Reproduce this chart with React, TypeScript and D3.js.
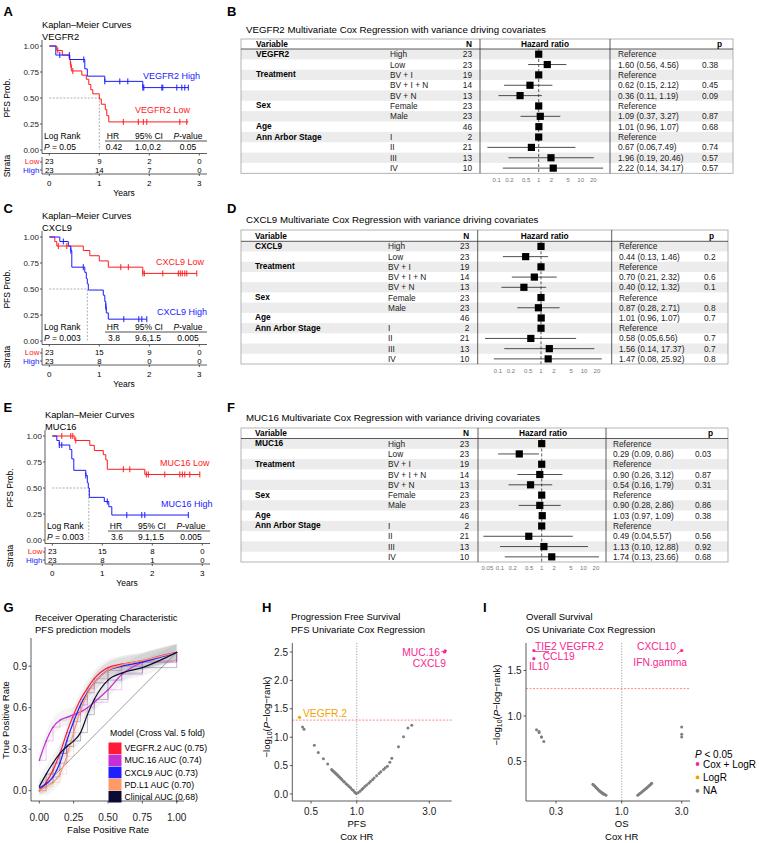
import React from 'react';
import * as d3 from 'd3';

const FONT = '"Liberation Sans", Arial, Helvetica, sans-serif';
const RED = '#ff1a1a';
const BLUE = '#1a1aff';
const PINK = '#f7288f';
const ORANGE = '#f5a300';
const GRAY = '#7f7f7f';

// ---------- Kaplan-Meier data ----------
const vegfrHighSteps = [[0, 1], [0.13, 0.913], [0.41, 0.87], [0.71, 0.78], [0.76, 0.71], [1.11, 0.66], [1.87, 0.6]];
const vegfrHighCensor = [0.21, 0.4, 0.69, 1.11, 1.41, 1.57, 1.87, 1.89, 2.25, 2.27, 2.55, 2.65, 2.71, 2.78];
const vegfrLowSteps = [[0, 1], [0.15, 0.957], [0.26, 0.913], [0.4, 0.87], [0.42, 0.82], [0.44, 0.76], [0.65, 0.72], [0.74, 0.68], [0.79, 0.63], [0.83, 0.58], [0.87, 0.54], [1.0, 0.49], [1.04, 0.44], [1.12, 0.39], [1.15, 0.33], [1.19, 0.27]];
const vegfrLowCensor = [0.17, 0.43, 0.47, 1.48, 1.78, 1.88, 1.95, 2.61, 2.75];
const vegfrRiskLow = [23, 9, 2, 0];
const vegfrRiskHigh = [23, 14, 7, 0];

const cxclLowSteps = [[0, 1], [0.11, 0.957], [0.15, 0.913], [0.68, 0.87], [0.81, 0.82], [1.0, 0.77], [1.18, 0.71], [1.87, 0.65]];
const cxclLowCensor = [0.18, 0.35, 1.43, 1.58, 1.87, 1.9, 2.27, 2.58, 2.62, 2.66, 2.71, 2.75, 2.95];
const cxclHighSteps = [[0, 1], [0.21, 0.957], [0.38, 0.913], [0.43, 0.87], [0.45, 0.71], [0.71, 0.66], [0.74, 0.6], [0.76, 0.55], [0.78, 0.49], [1.08, 0.44], [1.11, 0.38], [1.13, 0.33], [1.14, 0.27], [1.18, 0.21]];
const cxclHighCensor = [0.28, 0.43, 0.68, 1.13, 1.49, 1.79, 1.85, 1.95];
const cxclRiskLow = [23, 15, 9, 0];
const cxclRiskHigh = [23, 8, 0, 0];

const mucLowSteps = [[0, 1], [0.45, 0.957], [0.75, 0.91], [0.84, 0.86], [1.02, 0.82], [1.07, 0.77], [1.1, 0.68], [1.85, 0.63]];
const mucLowCensor = [0.19, 0.37, 0.41, 0.47, 1.42, 1.55, 1.88, 1.92, 2.25, 2.55, 2.6, 2.65, 2.75, 2.95];
const mucHighSteps = [[0, 1], [0.09, 0.957], [0.14, 0.913], [0.35, 0.87], [0.39, 0.78], [0.43, 0.67], [0.67, 0.62], [0.7, 0.55], [0.72, 0.5], [0.74, 0.41], [1.04, 0.37], [1.13, 0.32], [1.19, 0.24]];
const mucHighCensor = [0.14, 0.19, 0.67, 1.1, 1.49, 1.79, 1.85, 2.72];
const mucRiskLow = [23, 15, 8, 0];
const mucRiskHigh = [23, 8, 1, 0];

const kmYTicks = [0, 0.25, 0.5, 0.75, 1];
const kmYLabels = ['0.00', '0.25', '0.50', '0.75', '1.00'];
const kmXTicks = [0, 1, 2, 3];

// ---------- Forest data ----------
const forestVars = ['', '', 'Treatment', '', '', 'Sex', '', 'Age', 'Ann Arbor Stage', '', '', ''];
const forestLevels = ['High', 'Low', 'BV + I', 'BV + I + N', 'BV + N', 'Female', 'Male', '', 'I', 'II', 'III', 'IV'];
const forestN = [23, 23, 19, 14, 13, 23, 23, 46, 2, 21, 13, 10];

const vegfrHR = [1, 1.6, 1, 0.62, 0.36, 1, 1.09, 1.01, 1, 0.67, 1.96, 2.22];
const vegfrLo = [NaN, 0.56, NaN, 0.15, 0.11, NaN, 0.37, 0.96, NaN, 0.06, 0.19, 0.14];
const vegfrHi = [NaN, 4.56, NaN, 2.12, 1.19, NaN, 3.27, 1.07, NaN, 7.49, 20.46, 34.17];
const vegfrEst = ['Reference', '1.60 (0.56, 4.56)', 'Reference', '0.62 (0.15, 2.12)', '0.36 (0.11, 1.19)', 'Reference', '1.09 (0.37, 3.27)', '1.01 (0.96, 1.07)', 'Reference', '0.67 (0.06,7.49)', '1.96 (0.19, 20.46)', '2.22 (0.14, 34.17)'];
const vegfrP = ['', '0.38', '', '0.45', '0.09', '', '0.87', '0.68', '', '0.74', '0.57', '0.57'];

const cxclHR = [1, 0.44, 1, 0.7, 0.4, 1, 0.87, 1.01, 1, 0.58, 1.56, 1.47];
const cxclLo = [NaN, 0.13, NaN, 0.21, 0.12, NaN, 0.28, 0.96, NaN, 0.05, 0.14, 0.08];
const cxclHi = [NaN, 1.46, NaN, 2.32, 1.32, NaN, 2.71, 1.07, NaN, 6.56, 17.37, 25.92];
const cxclEst = ['Reference', '0.44 (0.13, 1.46)', 'Reference', '0.70 (0.21, 2.32)', '0.40 (0.12, 1.32)', 'Reference', '0.87 (0.28, 2.71)', '1.01 (0.96, 1.07)', 'Reference', '0.58 (0.05,6.56)', '1.56 (0.14, 17.37)', '1.47 (0.08, 25.92)'];
const cxclP = ['', '0.2', '', '0.6', '0.1', '', '0.8', '0.7', '', '0.7', '0.7', '0.8'];

const mucHR = [1, 0.29, 1, 0.9, 0.54, 1, 0.9, 1.03, 1, 0.49, 1.13, 1.74];
const mucLo = [NaN, 0.09, NaN, 0.26, 0.16, NaN, 0.28, 0.97, NaN, 0.04, 0.1, 0.13];
const mucHi = [NaN, 0.86, NaN, 3.12, 1.79, NaN, 2.86, 1.09, NaN, 5.57, 12.88, 23.66];
const mucEst = ['Reference', '0.29 (0.09, 0.86)', 'Reference', '0.90 (0.26, 3.12)', '0.54 (0.16, 1.79)', 'Reference', '0.90 (0.28, 2.86)', '1.03 (0.97, 1.09)', 'Reference', '0.49 (0.04,5.57)', '1.13 (0.10, 12.88)', '1.74 (0.13, 23.66)'];
const mucP = ['', '0.03', '', '0.87', '0.31', '', '0.86', '0.38', '', '0.56', '0.92', '0.68'];

const forestTicks = [0.1, 0.2, 0.5, 1, 2, 5, 10, 20];
const forestTicksF = [0.05, 0.1, 0.2, 0.5, 1, 2, 5, 10, 20];

// ---------- ROC data ----------
const rocFPR = [0, 0.05, 0.1, 0.15, 0.2, 0.25, 0.3, 0.35, 0.4, 0.5, 0.6, 0.75, 1];
const rocVEGFR = [0, 0.06, 0.15, 0.27, 0.42, 0.55, 0.66, 0.74, 0.81, 0.89, 0.915, 0.94, 1];
const rocMUC = [0.22, 0.36, 0.46, 0.51, 0.53, 0.55, 0.57, 0.6, 0.64, 0.73, 0.84, 0.93, 1];
const rocCXCL = [0.02, 0.05, 0.1, 0.2, 0.36, 0.5, 0.62, 0.71, 0.78, 0.87, 0.9, 0.93, 1];
const rocPDL1 = [0, 0.03, 0.06, 0.12, 0.25, 0.42, 0.58, 0.7, 0.78, 0.87, 0.91, 0.94, 1];
const rocClin = [0.03, 0.12, 0.2, 0.27, 0.32, 0.36, 0.42, 0.55, 0.66, 0.8, 0.85, 0.89, 1];
const rocNames = ['VEGFR.2 AUC (0.75)', 'MUC.16 AUC (0.74)', 'CXCL9 AUC (0.73)', 'PD.L1 AUC (0.70)', 'Clinical AUC (0.68)'];
const rocColors = ['#ff1a35', '#c52fd6', '#1f1fff', '#ff9966', '#0b0b33'];

// ---------- Volcano data ----------
const hGrayHR = [0.44, 0.45, 0.526, 0.558, 0.603, 0.644, 0.684, 0.69, 0.7, 0.71, 0.72, 0.73, 0.74, 0.75, 0.76, 0.77, 0.78, 0.79, 0.8, 0.82, 0.83, 0.85, 0.87, 0.89, 0.91, 0.93, 0.95, 0.97, 0.99, 1.02, 1.05, 1.08, 1.1, 1.13, 1.16, 1.2, 1.23, 1.27, 1.3, 1.35, 1.4, 1.44, 1.5, 1.54, 1.59, 1.65, 1.7, 1.88, 2.03, 2.17, 2.3];
const hGrayP = [1.18, 1.14, 0.86, 0.73, 0.62, 0.53, 0.43, 0.42, 0.4, 0.39, 0.37, 0.36, 0.34, 0.33, 0.31, 0.3, 0.28, 0.27, 0.25, 0.22, 0.21, 0.18, 0.16, 0.13, 0.11, 0.08, 0.06, 0.03, 0.01, 0.02, 0.05, 0.08, 0.1, 0.13, 0.16, 0.19, 0.22, 0.25, 0.28, 0.32, 0.36, 0.39, 0.43, 0.46, 0.49, 0.56, 0.63, 0.83, 1.01, 1.16, 1.21];
const hPinkHR = [3.82, 3.78];
const hPinkP = [2.52, 2.5];
const hOrangeHR = [0.42];
const hOrangeP = [1.35];

const iGrayHR = [0.21, 0.22, 0.22, 0.23, 0.23, 0.24, 3.0, 3.0, 3.0, 0.59, 0.6, 0.61, 0.62, 0.63, 0.64, 0.65, 0.66, 0.67, 0.68, 0.69, 0.7, 0.71, 0.72, 0.73, 0.75, 1.34, 1.37, 1.4, 1.43, 1.46, 1.49, 1.52, 1.55, 1.58, 1.61, 1.64, 1.67, 1.7, 1.73];
const iGrayP = [0.85, 0.83, 0.82, 0.77, 0.77, 0.72, 0.88, 0.8, 0.77, 0.25, 0.24, 0.23, 0.22, 0.21, 0.2, 0.19, 0.18, 0.17, 0.17, 0.16, 0.15, 0.15, 0.14, 0.14, 0.13, 0.13, 0.14, 0.15, 0.16, 0.17, 0.18, 0.19, 0.2, 0.21, 0.22, 0.23, 0.24, 0.25, 0.26];
const iPinkHR = [0.2, 0.2, 3.0];
const iPinkP = [1.72, 1.63, 1.72];

// ---------- helpers ----------
function survAt(steps: number[][], t: number) {
  let s = 1;
  for (const d of steps) if (d[0] <= t) s = d[1];
  return s;
}

function KMPanel(props: any) {
  const { dx, dy, gene, highSteps, highCensor, highEnd, lowSteps, lowCensor, lowEnd, medianT, pText, hr, ci, pv, riskLow, riskHigh, hiLab, loLab } = props;
  const x = d3.scaleLinear().domain([0, 3]).range([49.3 + dx, 199.3 + dx]);
  const y = d3.scaleLinear().domain([0, 1]).range([150 + dy, 46 + dy]);
  const axX = 42 + dx;
  const axB = 153.5 + dy;
  const right = 207 + dx;
  const line = d3.line().curve(d3.curveStepAfter);
  const curve = (steps: number[][], end: number) => {
    const pts = steps.map((d) => [x(d[0]), y(d[1])] as [number, number]);
    pts.push([x(end), y(steps[steps.length - 1][1])]);
    return line(pts) || '';
  };
  const fs = 8.5;
  return (
    <g>
      <text x={42 + dx} y={25 + dy} fontSize={9.3} dominantBaseline="central">Kaplan–Meier Curves</text>
      <text x={42 + dx} y={37 + dy} fontSize={9.3} dominantBaseline="central">{gene}</text>
      <line x1={axX} x2={axX} y1={40 + dy} y2={axB} stroke="#333" strokeWidth={0.8} />
      <line x1={axX} x2={right} y1={axB} y2={axB} stroke="#333" strokeWidth={0.8} />
      {kmYTicks.map((t, i) => (
        <g key={i}>
          <line x1={axX - 2} x2={axX} y1={y(t)} y2={y(t)} stroke="#333" strokeWidth={0.8} />
          <text x={axX - 3} y={y(t)} fontSize={8} textAnchor="end" dominantBaseline="central" fill="#222">{kmYLabels[i]}</text>
        </g>
      ))}
      {kmXTicks.map((t) => (
        <line key={t} x1={x(t)} x2={x(t)} y1={axB} y2={axB + 2} stroke="#333" strokeWidth={0.8} />
      ))}
      <text transform={`translate(${7 + dx},${98 + dy}) rotate(-90)`} fontSize={fs} textAnchor="middle" dominantBaseline="central">PFS Prob.</text>
      <path d={`M${x(0)},${y(0.5)}H${x(medianT)}V${y(0)}`} stroke="#999" strokeDasharray="2,1.5" fill="none" strokeWidth={0.8} />
      <path d={curve(lowSteps, lowEnd)} stroke={RED} fill="none" strokeWidth={1} />
      <path d={curve(highSteps, highEnd)} stroke={BLUE} fill="none" strokeWidth={1} />
      {lowCensor.map((t: number, i: number) => (
        <line key={'lc' + i} x1={x(t)} x2={x(t)} y1={y(survAt(lowSteps, t)) - 3} y2={y(survAt(lowSteps, t)) + 3} stroke={RED} strokeWidth={1} />
      ))}
      {highCensor.map((t: number, i: number) => (
        <line key={'hc' + i} x1={x(t)} x2={x(t)} y1={y(survAt(highSteps, t)) - 3} y2={y(survAt(highSteps, t)) + 3} stroke={BLUE} strokeWidth={1} />
      ))}
      <text x={hiLab[0] + dx} y={hiLab[1] + dy} fontSize={9} fill={BLUE} dominantBaseline="central">{gene} High</text>
      <text x={loLab[0] + dx} y={loLab[1] + dy} fontSize={9} fill={RED} dominantBaseline="central">{gene} Low</text>
      <text x={44 + dx} y={136 + dy} fontSize={fs} dominantBaseline="central">Log Rank</text>
      <text x={44 + dx} y={146.5 + dy} fontSize={fs} dominantBaseline="central"><tspan fontStyle="italic">P</tspan> = {pText}</text>
      <text x={113 + dx} y={136 + dy} fontSize={fs} textAnchor="middle" dominantBaseline="central">HR</text>
      <text x={149 + dx} y={136 + dy} fontSize={fs} textAnchor="middle" dominantBaseline="central">95% CI</text>
      <text x={188 + dx} y={136 + dy} fontSize={fs} textAnchor="middle" dominantBaseline="central"><tspan fontStyle="italic">P</tspan>-value</text>
      <line x1={105 + dx} x2={207 + dx} y1={141 + dy} y2={141 + dy} stroke="#222" strokeWidth={0.8} />
      <text x={114 + dx} y={146.5 + dy} fontSize={fs} textAnchor="middle" dominantBaseline="central">{hr}</text>
      <text x={148 + dx} y={146.5 + dy} fontSize={fs} textAnchor="middle" dominantBaseline="central">{ci}</text>
      <text x={188 + dx} y={146.5 + dy} fontSize={fs} textAnchor="middle" dominantBaseline="central">{pv}</text>
      <line x1={axX} x2={axX} y1={157 + dy} y2={174 + dy} stroke="#333" strokeWidth={0.8} />
      <line x1={axX} x2={right} y1={174 + dy} y2={174 + dy} stroke="#333" strokeWidth={0.8} />
      <line x1={axX - 2} x2={axX} y1={162 + dy} y2={162 + dy} stroke="#333" strokeWidth={0.8} />
      <line x1={axX - 2} x2={axX} y1={170 + dy} y2={170 + dy} stroke="#333" strokeWidth={0.8} />
      <text x={axX - 2.5} y={161.8 + dy} fontSize={8} fill={RED} textAnchor="end" dominantBaseline="central">Low</text>
      <text x={axX - 2.5} y={170.2 + dy} fontSize={8} fill={BLUE} textAnchor="end" dominantBaseline="central">High</text>
      {riskLow.map((v: number, i: number) => (
        <text key={'rl' + i} x={x(kmXTicks[i])} y={161.8 + dy} fontSize={7.8} textAnchor="middle" dominantBaseline="central">{v}</text>
      ))}
      {riskHigh.map((v: number, i: number) => (
        <text key={'rh' + i} x={x(kmXTicks[i])} y={170.2 + dy} fontSize={7.8} textAnchor="middle" dominantBaseline="central">{v}</text>
      ))}
      <text transform={`translate(${7 + dx},${166 + dy}) rotate(-90)`} fontSize={fs} textAnchor="middle" dominantBaseline="central">Strata</text>
      {kmXTicks.map((t) => (
        <g key={'xt' + t}>
          <line x1={x(t)} x2={x(t)} y1={174 + dy} y2={176 + dy} stroke="#333" strokeWidth={0.8} />
          <text x={x(t)} y={183 + dy} fontSize={8} textAnchor="middle" dominantBaseline="central">{t}</text>
        </g>
      ))}
      <text x={124 + dx} y={193 + dy} fontSize={8.5} textAnchor="middle" dominantBaseline="central">Years</text>
    </g>
  );
}

function Forest(props: any) {
  const { L, first, hr, lo, hi, est, pv, ticks } = props;
  const x = d3.scaleLog().domain([0.1, 10]).range([L.ref - L.dec, L.ref + L.dec]);
  const rowH = (L.bottom - L.hline) / 12;
  const fs = 8.3;
  const vars = forestVars.map((v, i) => (i === 0 ? first : v));
  return (
    <g>
      <text x={246} y={L.titleY} fontSize={9.7} dominantBaseline="central">{first} Multivariate Cox Regression with variance driving covariates</text>
      {forestLevels.map((_, i) =>
        i % 2 === 0 ? <rect key={'bg' + i} x={L.x0} y={L.hline + i * rowH} width={L.x1 - L.x0} height={rowH} fill="#ececec" /> : null
      )}
      <rect x={L.x0} y={L.top} width={L.x1 - L.x0} height={L.bottom - L.top} fill="none" stroke="#a0a0a0" strokeWidth={0.8} />
      <line x1={L.x0} x2={L.x1} y1={L.hline} y2={L.hline} stroke="#333" strokeWidth={0.8} />
      <line x1={L.v1} x2={L.v1} y1={L.top} y2={L.bottom} stroke="#333" strokeWidth={0.8} />
      <line x1={L.v2} x2={L.v2} y1={L.top} y2={L.bottom} stroke="#333" strokeWidth={0.8} />
      <text x={L.varX} y={L.headY} fontSize={fs} fontWeight="bold" dominantBaseline="central">Variable</text>
      <text x={L.nX} y={L.headY} fontSize={fs} fontWeight="bold" textAnchor="end" dominantBaseline="central">N</text>
      <text x={L.hrHead} y={L.headY} fontSize={fs} fontWeight="bold" textAnchor="middle" dominantBaseline="central">Hazard ratio</text>
      <text x={L.pHead} y={L.headY} fontSize={fs} fontWeight="bold" textAnchor="end" dominantBaseline="central">p</text>
      <line x1={x(1)} x2={x(1)} y1={L.hline} y2={L.bottom} stroke="#333" strokeWidth={0.8} strokeDasharray="3,2" />
      {forestLevels.map((lev, i) => {
        const cy = L.hline + (i + 0.5) * rowH;
        return (
          <g key={'r' + i}>
            {vars[i] ? <text x={L.varX} y={cy - 0.5} fontSize={fs} fontWeight="bold" dominantBaseline="central">{vars[i]}</text> : null}
            <text x={L.levX} y={cy} fontSize={fs} dominantBaseline="central" fill="#222">{lev}</text>
            <text x={L.nX} y={cy} fontSize={fs} textAnchor="end" dominantBaseline="central" fill="#222">{forestN[i]}</text>
            {isNaN(lo[i]) ? null : <line x1={x(lo[i])} x2={x(hi[i])} y1={cy} y2={cy} stroke="#222" strokeWidth={0.8} />}
            <rect x={x(hr[i]) - 3.6} y={cy - 3.6} width={7.2} height={7.2} fill="#000" />
            <text x={L.textX} y={cy} fontSize={fs} dominantBaseline="central" fill="#222">{est[i]}</text>
            <text x={L.pX} y={cy} fontSize={fs} dominantBaseline="central" fill="#222">{pv[i]}</text>
          </g>
        );
      })}
      {ticks.map((t: number, i: number) => (
        <text key={'t' + i} x={x(t)} y={L.tickY} fontSize={6} fill="#777" textAnchor="middle" dominantBaseline="central">{String(t)}</text>
      ))}
    </g>
  );
}

function ROCPanel() {
  const x = d3.scaleLinear().domain([0, 1]).range([39.3, 176.7]);
  const y = d3.scaleLinear().domain([0, 1]).range([790.7, 652.4]);
  const series = [rocVEGFR, rocMUC, rocCXCL, rocPDL1, rocClin];
  const smooth = d3.line<number>().x((_, i) => x(rocFPR[i])).y((d) => y(d)).curve(d3.curveMonotoneX);
  const step = d3.line<number>().x((_, i) => x(rocFPR[i])).y((d) => y(d)).curve(d3.curveStepAfter);
  const band = d3.area<number>().x((_, i) => x(rocFPR[i])).y0((d) => y(Math.max(-0.03, d - 0.06))).y1((d) => y(Math.min(1.06, d + 0.06))).curve(d3.curveMonotoneX);
  const xt = [0, 0.25, 0.5, 0.75, 1];
  const yt = [0, 0.3, 0.6, 0.9];
  return (
    <g>
      <text x={35} y={617} fontSize={9.5} dominantBaseline="central">Receiver Operating Characteristic</text>
      <text x={35} y={629} fontSize={9.5} dominantBaseline="central">PFS prediction models</text>
      {series.map((s, k) => <path key={'b' + k} d={band(s) || ''} fill="#000" opacity={0.045} />)}
      <line x1={x(0)} y1={y(0)} x2={x(1)} y2={y(1)} stroke="#888" strokeWidth={0.8} />
      {series.map((s, k) => <path key={'s' + k} d={step(s) || ''} fill="none" stroke={rocColors[k]} strokeWidth={0.5} opacity={0.55} />)}
      {series.map((s, k) => s.map((d, i) => <circle key={'d' + k + '-' + i} cx={x(rocFPR[i])} cy={y(d)} r={0.6} fill="#333" />))}
      {series.map((s, k) => <path key={'m' + k} d={smooth(s) || ''} fill="none" stroke={rocColors[k]} strokeWidth={1.2} />)}
      <line x1={31} x2={31} y1={638} y2={801} stroke="#333" strokeWidth={0.8} />
      <line x1={31} x2={184} y1={801} y2={801} stroke="#333" strokeWidth={0.8} />
      {xt.map((t) => (
        <g key={'x' + t}>
          <line x1={x(t)} x2={x(t)} y1={801} y2={803.5} stroke="#333" strokeWidth={0.8} />
          <text x={x(t)} y={817.7} fontSize={10} textAnchor="middle" dominantBaseline="central" fill="#222">{t.toFixed(2)}</text>
        </g>
      ))}
      {yt.map((t) => (
        <g key={'y' + t}>
          <line x1={28.5} x2={31} y1={y(t)} y2={y(t)} stroke="#333" strokeWidth={0.8} />
          <text x={27} y={y(t)} fontSize={10} textAnchor="end" dominantBaseline="central" fill="#222">{t.toFixed(1)}</text>
        </g>
      ))}
      <text x={108} y={829.5} fontSize={9.5} textAnchor="middle" dominantBaseline="central">False Positive Rate</text>
      <text transform="translate(5,720) rotate(-90)" fontSize={9.5} textAnchor="middle" dominantBaseline="central">True Positive Rate</text>
      <text x={110} y={732.7} fontSize={8.7} dominantBaseline="central">Model (Cross Val. 5 fold)</text>
      {rocNames.map((n, k) => (
        <g key={'l' + k}>
          <rect x={108.5} y={742.5 + k * 12.1} width={13} height={11.6} fill={rocColors[k]} />
          <text x={124.5} y={748.3 + k * 12.1} fontSize={8.7} dominantBaseline="central">{n}</text>
        </g>
      ))}
    </g>
  );
}

function YLabel({ cx, cy }: { cx: number; cy: number }) {
  return (
    <text transform={`translate(${cx},${cy}) rotate(-90)`} fontSize={9.5} textAnchor="middle" dominantBaseline="central">
      −log<tspan fontSize={7} dy={2.5}>10</tspan><tspan dy={-2.5}>(</tspan><tspan fontStyle="italic">P</tspan>−log−rank)
    </text>
  );
}

function VolcanoH() {
  const x = d3.scaleLog().domain([0.5, 3]).range([311, 429.3]);
  const y = d3.scaleLinear().domain([0, 2.5]).range([794, 652]);
  const yt = [0, 0.5, 1, 1.5, 2, 2.5];
  const xt = [0.5, 1, 3];
  return (
    <g>
      <text x={291} y={616} fontSize={9.5} dominantBaseline="central">Progression Free Survival</text>
      <text x={291} y={629} fontSize={9.5} dominantBaseline="central">PFS Univariate Cox Regression</text>
      <line x1={x(1)} x2={x(1)} y1={643} y2={801} stroke="#888" strokeWidth={0.8} strokeDasharray="1.2,1.5" />
      <line x1={292.3} x2={451.7} y1={y(1.301)} y2={y(1.301)} stroke="#ff6b6b" strokeWidth={0.8} strokeDasharray="2,1.5" />
      {hGrayHR.map((h, i) => <circle key={'g' + i} cx={x(h)} cy={y(hGrayP[i])} r={1.5} fill={GRAY} />)}
      {hOrangeHR.map((h, i) => <circle key={'o' + i} cx={x(h)} cy={y(hOrangeP[i])} r={1.6} fill={ORANGE} />)}
      {hPinkHR.map((h, i) => <circle key={'p' + i} cx={x(h)} cy={y(hPinkP[i])} r={1.6} fill={PINK} />)}
      <line x1={441} y1={652} x2={444.5} y2={651} stroke={PINK} strokeWidth={0.8} />
      <text x={440} y={652} fontSize={10.3} fill={PINK} textAnchor="end" dominantBaseline="central">MUC.16</text>
      <text x={446} y={663} fontSize={10.3} fill={PINK} textAnchor="end" dominantBaseline="central">CXCL9</text>
      <text x={303} y={713} fontSize={10.3} fill={ORANGE} dominantBaseline="central">VEGFR.2</text>
      <line x1={292.3} x2={292.3} y1={643} y2={801} stroke="#333" strokeWidth={0.8} />
      <line x1={292.3} x2={451.7} y1={801} y2={801} stroke="#333" strokeWidth={0.8} />
      {yt.map((t) => (
        <g key={'y' + t}>
          <line x1={289.8} x2={292.3} y1={y(t)} y2={y(t)} stroke="#333" strokeWidth={0.8} />
          <text x={288} y={y(t)} fontSize={10} textAnchor="end" dominantBaseline="central" fill="#222">{t.toFixed(1)}</text>
        </g>
      ))}
      {xt.map((t) => (
        <g key={'x' + t}>
          <line x1={x(t)} x2={x(t)} y1={801} y2={803.5} stroke="#333" strokeWidth={0.8} />
          <text x={x(t)} y={811.5} fontSize={10} textAnchor="middle" dominantBaseline="central" fill="#222">{t.toFixed(1)}</text>
        </g>
      ))}
      <text x={x(1)} y={823.5} fontSize={9.5} textAnchor="middle" dominantBaseline="central">PFS</text>
      <text x={x(1)} y={836.7} fontSize={9.5} textAnchor="middle" dominantBaseline="central">Cox HR</text>
      <YLabel cx={266} cy={717} />
    </g>
  );
}

function VolcanoI() {
  const x = d3.scaleLog().domain([0.3, 3]).range([556, 681.7]);
  const y = d3.scaleLinear().domain([0.5, 1.5]).range([761.5, 670.5]);
  const yt = [0.5, 1, 1.5];
  const xt = [0.3, 1, 3];
  return (
    <g>
      <text x={526} y={616} fontSize={9.5} dominantBaseline="central">Overall Survival</text>
      <text x={526} y={629} fontSize={9.5} dominantBaseline="central">OS Univariate Cox Regression</text>
      <line x1={x(1)} x2={x(1)} y1={643} y2={801} stroke="#888" strokeWidth={0.8} strokeDasharray="1.2,1.5" />
      <line x1={526} x2={690} y1={y(1.301)} y2={y(1.301)} stroke="#ff6b6b" strokeWidth={0.8} strokeDasharray="2,1.5" />
      {iGrayHR.map((h, i) => <circle key={'g' + i} cx={x(h)} cy={y(iGrayP[i])} r={1.5} fill={GRAY} />)}
      {iPinkHR.map((h, i) => <circle key={'p' + i} cx={x(h)} cy={y(iPinkP[i])} r={1.6} fill={PINK} />)}
      <line x1={534.5} y1={651.5} x2={549} y2={651.5} stroke={PINK} strokeWidth={0.8} />
      <text x={535} y={646} fontSize={10.3} fill={PINK} dominantBaseline="central">TIE2 VEGFR.2</text>
      <text x={542.7} y={656.7} fontSize={10.3} fill={PINK} dominantBaseline="central">CCL19</text>
      <text x={529} y={666.7} fontSize={10.3} fill={PINK} dominantBaseline="central">IL10</text>
      <line x1={677} y1={654} x2={681} y2={650.5} stroke={PINK} strokeWidth={0.8} />
      <text x={637} y={646} fontSize={10.3} fill={PINK} dominantBaseline="central">CXCL10</text>
      <text x={633.3} y={662.3} fontSize={10.3} fill={PINK} dominantBaseline="central">IFN.gamma</text>
      <line x1={526} x2={526} y1={643} y2={801} stroke="#333" strokeWidth={0.8} />
      <line x1={526} x2={690} y1={801} y2={801} stroke="#333" strokeWidth={0.8} />
      {yt.map((t) => (
        <g key={'y' + t}>
          <line x1={523.5} x2={526} y1={y(t)} y2={y(t)} stroke="#333" strokeWidth={0.8} />
          <text x={521.5} y={y(t)} fontSize={10} textAnchor="end" dominantBaseline="central" fill="#222">{t.toFixed(1)}</text>
        </g>
      ))}
      {xt.map((t) => (
        <g key={'x' + t}>
          <line x1={x(t)} x2={x(t)} y1={801} y2={803.5} stroke="#333" strokeWidth={0.8} />
          <text x={x(t)} y={811.5} fontSize={10} textAnchor="middle" dominantBaseline="central" fill="#222">{t.toFixed(1)}</text>
        </g>
      ))}
      <text x={x(1)} y={823.5} fontSize={9.5} textAnchor="middle" dominantBaseline="central">OS</text>
      <text x={x(1)} y={836.7} fontSize={9.5} textAnchor="middle" dominantBaseline="central">Cox HR</text>
      <YLabel cx={496} cy={705} />
      <text x={695} y={754} fontSize={10} dominantBaseline="central"><tspan fontStyle="italic">P</tspan> &lt; 0.05</text>
      {[PINK, ORANGE, GRAY].map((c, k) => (
        <g key={'lg' + k}>
          <circle cx={697.5} cy={764 + k * 13.4} r={1.9} fill={c} />
          <text x={703} y={764 + k * 13.4} fontSize={10} dominantBaseline="central">{['Cox + LogR', 'LogR', 'NA'][k]}</text>
        </g>
      ))}
    </g>
  );
}

const LB = { titleY: 29, top: 39, headY: 44, hline: 49, bottom: 173.3, x0: 241, x1: 733, v1: 480, v2: 610, ref: 538.7, dec: 42, textX: 618, pX: 702, pHead: 722, varX: 256, levX: 390, nX: 472, tickY: 180, hrHead: 545 };
const LD = { titleY: 219, top: 230, headY: 236, hline: 241.3, bottom: 364, x0: 241, x1: 728, v1: 477.7, v2: 611.7, ref: 541, dec: 43, textX: 619, pX: 704, pHead: 714, varX: 255, levX: 388, nX: 469.3, tickY: 371, hrHead: 544.7 };
const LF = { titleY: 417, top: 428, headY: 433.3, hline: 438.5, bottom: 562, x0: 241, x1: 728, v1: 478, v2: 606, ref: 541.7, dec: 41.7, textX: 613, pX: 695, pHead: 713, varX: 255, levX: 388, nX: 469, tickY: 568, hrHead: 543 };

function PanelLabel({ x, y, t }: { x: number; y: number; t: string }) {
  return <text x={x} y={y} fontSize={13} fontWeight="bold">{t}</text>;
}

export default function App() {
  return (
    <div style={{ position: 'absolute', left: 0, top: 0, width: 759, height: 843, background: '#fff' }}>
      <svg width={759} height={843} style={{ display: 'block', fontFamily: FONT }}>
        <rect width={759} height={843} fill="#fff" />
        <PanelLabel x={3.5} y={15.5} t="A" />
        <PanelLabel x={227} y={15.5} t="B" />
        <PanelLabel x={3.5} y={213} t="C" />
        <PanelLabel x={227} y={213} t="D" />
        <PanelLabel x={3.5} y={412} t="E" />
        <PanelLabel x={227} y={412} t="F" />
        <PanelLabel x={3.5} y={612} t="G" />
        <PanelLabel x={262} y={612} t="H" />
        <PanelLabel x={483} y={612} t="I" />
        <KMPanel dx={0} dy={0} gene="VEGFR2" highSteps={vegfrHighSteps} highCensor={vegfrHighCensor} highEnd={2.78}
          lowSteps={vegfrLowSteps} lowCensor={vegfrLowCensor} lowEnd={2.78} medianT={1.0} pText="0.05" hr="0.42" ci="1.0,0.2" pv="0.05"
          riskLow={vegfrRiskLow} riskHigh={vegfrRiskHigh} hiLab={[143, 76]} loLab={[135, 110]} />
        <KMPanel dx={0} dy={191} gene="CXCL9" highSteps={cxclHighSteps} highCensor={cxclHighCensor} highEnd={1.95}
          lowSteps={cxclLowSteps} lowCensor={cxclLowCensor} lowEnd={2.95} medianT={0.76} pText="0.003" hr="3.8" ci="9.6,1.5" pv="0.005"
          riskLow={cxclRiskLow} riskHigh={cxclRiskHigh} hiLab={[157, 121]} loLab={[156, 71]} />
        <KMPanel dx={3} dy={390} gene="MUC16" highSteps={mucHighSteps} highCensor={mucHighCensor} highEnd={2.72}
          lowSteps={mucLowSteps} lowCensor={mucLowCensor} lowEnd={2.95} medianT={0.73} pText="0.003" hr="3.6" ci="9.1,1.5" pv="0.005"
          riskLow={mucRiskLow} riskHigh={mucRiskHigh} hiLab={[158, 114]} loLab={[157, 73]} />
        <Forest L={LB} first="VEGFR2" hr={vegfrHR} lo={vegfrLo} hi={vegfrHi} est={vegfrEst} pv={vegfrP} ticks={forestTicks} />
        <Forest L={LD} first="CXCL9" hr={cxclHR} lo={cxclLo} hi={cxclHi} est={cxclEst} pv={cxclP} ticks={forestTicks} />
        <Forest L={LF} first="MUC16" hr={mucHR} lo={mucLo} hi={mucHi} est={mucEst} pv={mucP} ticks={forestTicksF} />
        <ROCPanel />
        <VolcanoH />
        <VolcanoI />
      </svg>
    </div>
  );
}
